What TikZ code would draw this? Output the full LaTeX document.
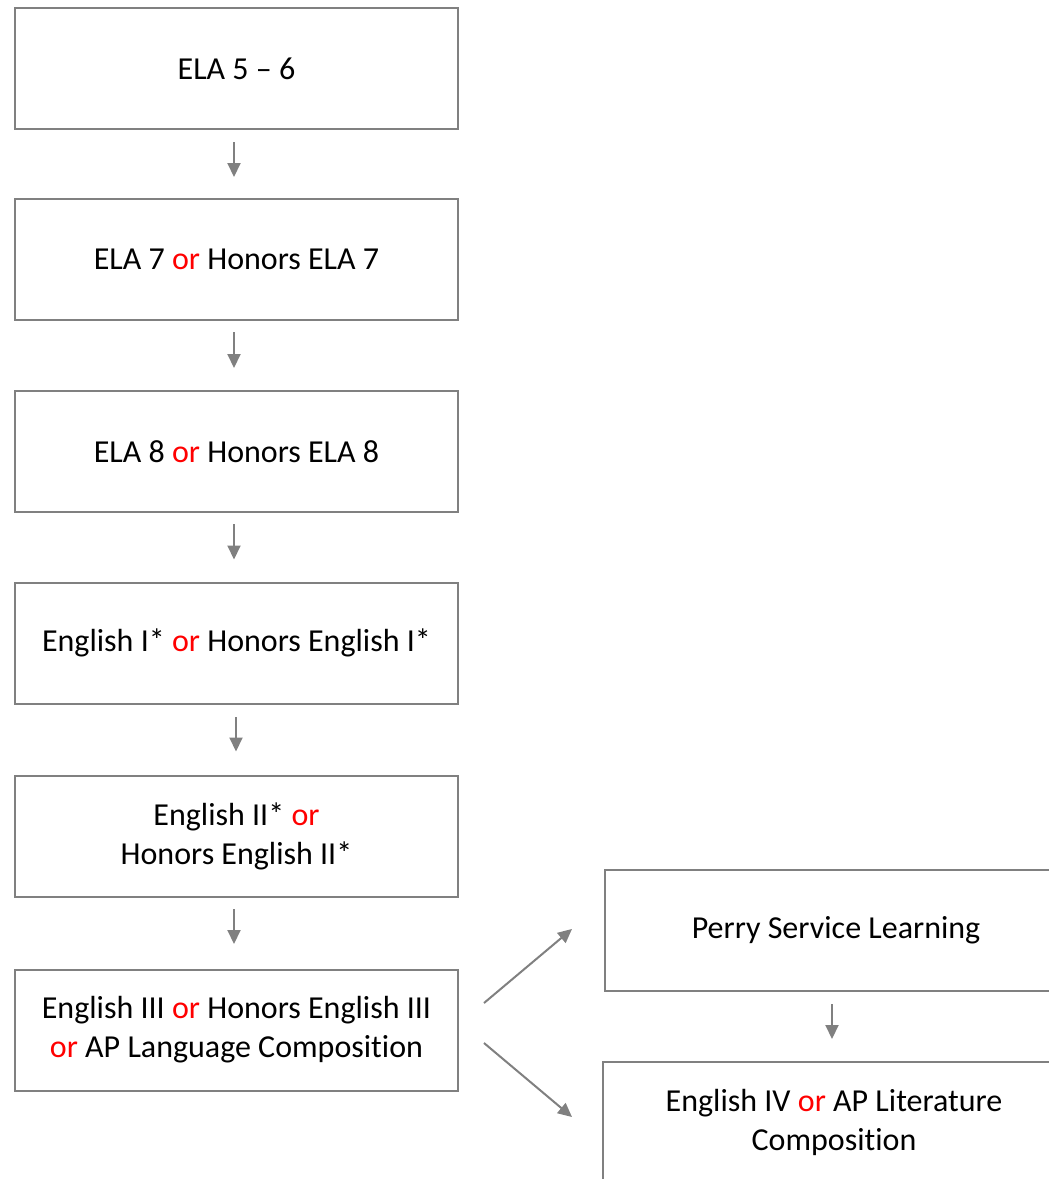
\documentclass[tikz,border=0pt]{standalone}
\usepackage{fontspec}
\setmainfont{Carlito}[Ligatures={NoCommon}]
\usetikzlibrary{arrows.meta}
\definecolor{boxgray}{RGB}{128,128,128}
\definecolor{orred}{RGB}{255,0,0}
\newcommand{\orw}{\textcolor{orred}{or}}
\begin{document}
\begin{tikzpicture}[x=1pt,y=-1pt,
  course/.style={draw=boxgray, line width=2pt, minimum width=443pt, minimum height=121pt,
    inner sep=0pt, align=center, font=\fontsize{32}{39}\selectfont, text=black},
  wide/.style={course, minimum width=462pt},
  flow/.style={draw=boxgray, line width=2pt, -{Triangle[length=14pt,width=13pt]}, color=boxgray}]
\useasboundingbox (0,0) rectangle (1049,1179);
\clip (0,0) rectangle (1049,1179);
\node[course] (b1) at (236.5,68.5) {ELA 5 -- 6};
\node[course] (b2) at (236.5,259.5) {ELA 7 \orw{} Honors ELA 7};
\node[course] (b3) at (236.5,451.5) {ELA 8 \orw{} Honors ELA 8};
\node[course] (b4) at (236.5,643) {English I* \orw{} Honors English I*};
\node[course] (b5) at (236.5,836.5) {English II* \orw\\Honors English II*};
\node[course] (b6) at (236.5,1030) {English III \orw{} Honors English III\\\orw{} AP Language Composition};
\node[wide] (r1) at (836,930.5) {Perry Service Learning};
\node[wide] (r2) at (834,1122.5) {English IV \orw{} AP Literature\\Composition};
\draw[flow] ([xshift=-2.5pt,yshift=-12pt]b1.south) -- ([xshift=-2.5pt,yshift=21pt]b2.north);
\draw[flow] ([xshift=-2.5pt,yshift=-11pt]b2.south) -- ([xshift=-2.5pt,yshift=22pt]b3.north);
\draw[flow] ([xshift=-2.5pt,yshift=-11pt]b3.south) -- ([xshift=-2.5pt,yshift=22pt]b4.north);
\draw[flow] ([xshift=-0.5pt,yshift=-12.5pt]b4.south) -- ([xshift=-0.5pt,yshift=23.5pt]b5.north);
\draw[flow] ([xshift=-2.5pt,yshift=-11pt]b5.south) -- ([xshift=-2.5pt,yshift=24.5pt]b6.north);
\draw[flow] ([xshift=-4pt,yshift=-12pt]r1.south) -- ([xshift=-2pt,yshift=22pt]r2.north);
\coordinate (u1) at (484,1003);
\coordinate (u2) at (572,929);
\coordinate (d1) at (484,1043);
\coordinate (d2) at (572,1117);
\draw[flow] (u1) -- (u2);
\draw[flow] (d1) -- (d2);
\end{tikzpicture}
\end{document}
